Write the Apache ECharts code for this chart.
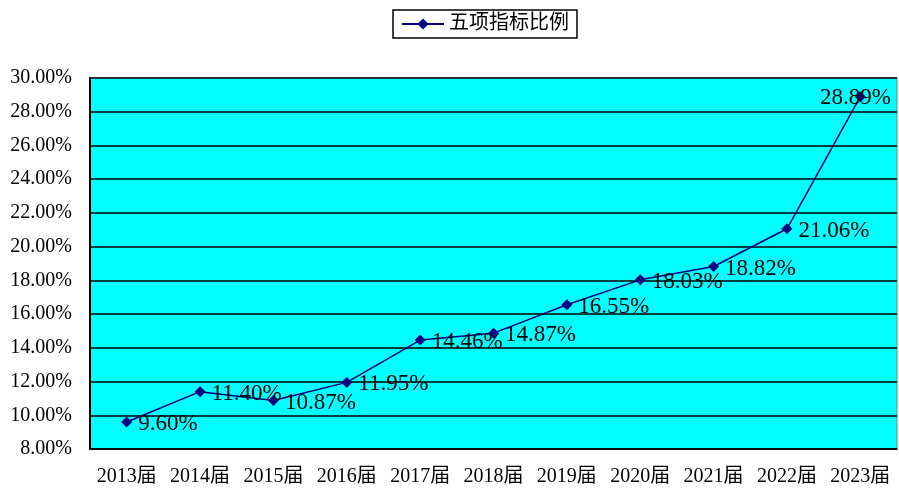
<!DOCTYPE html>
<html>
<head>
<meta charset="utf-8">
<script src="https://cdn.jsdelivr.net/npm/echarts@6/dist/echarts.min.js"></script>
<style>
html, body { margin: 0; padding: 0; background: #fff; }
#chart { width: 899px; height: 490px; }
</style>
</head>
<body>
<div id="chart"></div>
<script>
const categories = ['2013届', '2014届', '2015届', '2016届', '2017届', '2018届', '2019届', '2020届', '2021届', '2022届', '2023届']
const ratioValues = [9.60, 11.40, 10.87, 11.95, 14.46, 14.87, 16.55, 18.03, 18.82, 21.06, 28.89]
const seriesName = '五项指标比例'

const fontFamily = '"Liberation Serif", "Noto Sans CJK SC", serif'

const chartInstance = echarts.init(document.getElementById('chart'))

const seriesData = ratioValues.map((v, i) => {
    const item = { value: v }
    if (i === ratioValues.length - 1) {
        // 最后一个点的标签往左挪，避免超出
        item.label = { position: 'left', offset: [42, 1] }
    }
    return item
})

const option = {
    animation: false,
    backgroundColor: '#fff',
    legend: {
        top: 10,
        left: 393,
        itemWidth: 42,
        itemHeight: 14,
        itemGap: 6,
        padding: [4, 8, 4, 8],
        borderColor: '#000',
        borderWidth: 1.5,
        textStyle: { fontFamily: fontFamily, fontSize: 20, color: '#000' },
        data: [seriesName]
    },
    grid: {
        left: 90,
        right: 2,
        top: 78,
        bottom: 41,
        show: true,
        backgroundColor: '#00ffff',
        borderColor: '#808080',
        borderWidth: 1
    },
    xAxis: {
        type: 'category',
        data: categories,
        boundaryGap: true,
        axisLine: { lineStyle: { color: '#000', width: 1.5 } },
        axisTick: { inside: true, length: 5, lineStyle: { color: '#000' } },
        axisLabel: { interval: 0, fontFamily: fontFamily, fontSize: 20, color: '#000', margin: 18 }
    },
    yAxis: {
        type: 'value',
        min: 8,
        max: 30,
        interval: 2,
        axisLine: { show: true, lineStyle: { color: '#000', width: 2 } },
        axisTick: { show: false },
        splitLine: { lineStyle: { color: '#000', width: 1.5 } },
        axisLabel: {
            fontFamily: fontFamily,
            fontSize: 20,
            color: '#000',
            margin: 18,
            formatter: (v) => v.toFixed(2) + '%'
        }
    },
    series: [{
        name: seriesName,
        type: 'line',
        data: seriesData,
        symbol: 'diamond',
        symbolSize: 11,
        itemStyle: { color: '#000080' },
        lineStyle: { color: '#000080', width: 1.5 },
        label: {
            show: true,
            position: 'right',
            distance: 6,
            offset: [0, 2],
            fontFamily: fontFamily,
            fontSize: 23,
            color: '#000',
            formatter: (p) => p.value.toFixed(2) + '%'
        }
    }]
}

chartInstance.setOption(option)
</script>
</body>
</html>
